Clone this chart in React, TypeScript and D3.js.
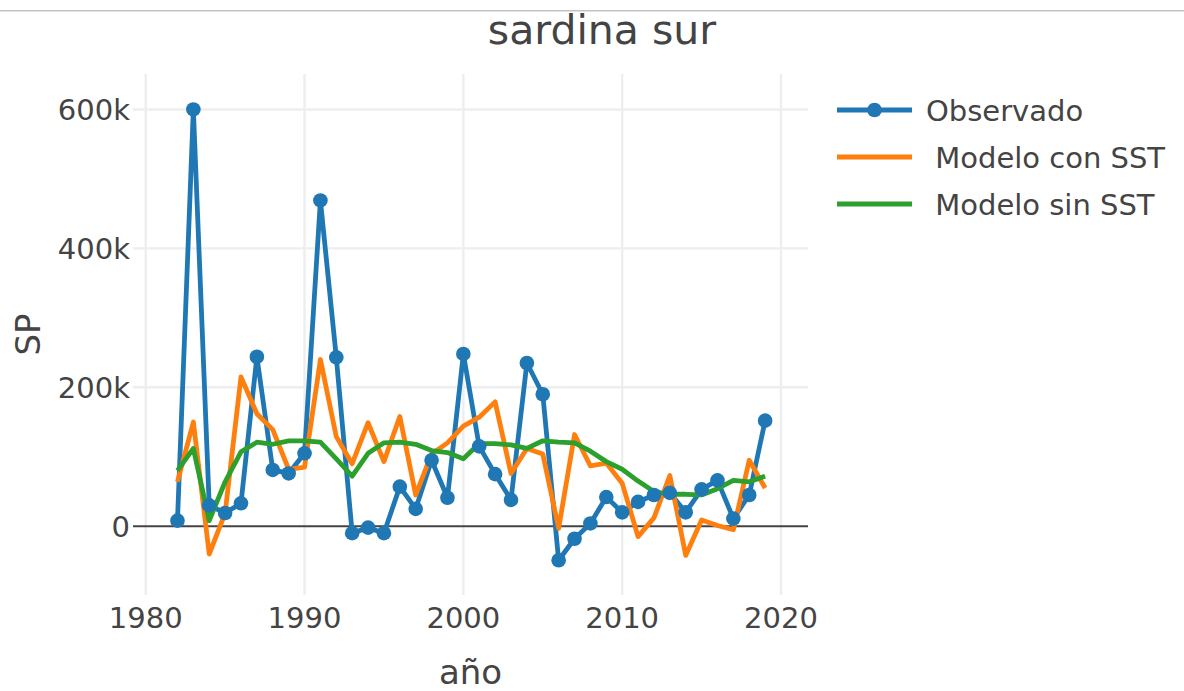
import React from "react";
import * as d3 from "d3";

const years: number[] = d3.range(1982, 2020);

// values in thousands
const observado: number[] = [
  8, 600, 30, 19, 33, 244, 81, 76, 105, 469,
  243, -10, -2, -10, 57, 25, 95, 41, 248, 115,
  75, 38, 235, 190, -49, -18, 4, 42, 20, 35,
  45, 48, 20, 53, 66, 11, 45, 152,
];

const modeloConSST: number[] = [
  64, 150, -40, 19, 215, 162, 139, 82, 85, 240,
  129, 90, 149, 93, 158, 45, 104, 120, 144, 157,
  179, 76, 112, 104, -3, 132, 87, 91, 62, -15,
  12, 73, -42, 9, 1, -5, 95, 55,
];

const modeloSinSST: number[] = [
  80, 112, 8, 64, 107, 121, 118, 123, 123, 121,
  97, 72, 105, 120, 121, 118, 109, 106, 97, 119,
  119, 117, 112, 123, 121, 120, 108, 93, 82, 65,
  50, 46, 46, 45, 54, 66, 64, 72,
];

const xTicks: number[] = [1980, 1990, 2000, 2010, 2020];
const yTicks: number[] = [0, 200, 400, 600];
const yTickLabels: string[] = ["0", "200k", "400k", "600k"];

const seriesNames: string[] = ["Observado", " Modelo con SST", " Modelo sin SST"];
const seriesColors: string[] = ["#1f77b4", "#ff7f0e", "#2ca02c"];

const W = 1184;
const H = 691;
const plot = { left: 133, right: 808, top: 74, bottom: 595 };
const FONT = "'DejaVu Sans', Verdana, sans-serif";
const TXT = "#444";

export default function App() {
  const x = d3.scaleLinear().domain([1979.2, 2021.7]).range([plot.left, plot.right]);
  const y = d3.scaleLinear().domain([-99, 651]).range([plot.bottom, plot.top]);

  const line = d3
    .line<number>()
    .x((_, i) => x(years[i]))
    .y((d) => y(d));

  const allSeries = [observado, modeloConSST, modeloSinSST];
  const drawOrder = [0, 1, 2];

  return (
    <svg
      width={W}
      height={H}
      style={{ position: "absolute", left: 0, top: 0, background: "#fff" }}
      fontFamily={FONT}
    >
      <rect x={0} y={0} width={W} height={H} fill="#fff" />
      <rect x={0} y={10} width={W} height={1.5} fill="#c4c4c4" />

      {/* grid */}
      {xTicks.map((t) => (
        <line
          key={"gx" + t}
          x1={x(t)}
          x2={x(t)}
          y1={plot.top}
          y2={plot.bottom}
          stroke="#eee"
          strokeWidth={2.4}
        />
      ))}
      {yTicks
        .filter((t) => t !== 0)
        .map((t) => (
          <line
            key={"gy" + t}
            x1={plot.left}
            x2={plot.right}
            y1={y(t)}
            y2={y(t)}
            stroke="#eee"
            strokeWidth={2.4}
          />
        ))}
      {/* zero line */}
      <line
        x1={plot.left}
        x2={plot.right}
        y1={y(0)}
        y2={y(0)}
        stroke="#444"
        strokeWidth={2.2}
      />

      {/* series */}
      {drawOrder.map((si) => (
        <path
          key={"s" + si}
          d={line(allSeries[si]) || ""}
          fill="none"
          stroke={seriesColors[si]}
          strokeWidth={4.8}
          strokeLinejoin="round"
        />
      ))}
      {observado.map((v, i) => (
        <circle key={"m" + i} cx={x(years[i])} cy={y(v)} r={7.3} fill={seriesColors[0]} />
      ))}

      {/* y tick labels */}
      {yTicks.map((t, i) => (
        <text
          key={"yl" + t}
          x={130}
          y={y(t)}
          dy="0.36em"
          textAnchor="end"
          fontSize={29}
          fill={TXT}
        >
          {yTickLabels[i]}
        </text>
      ))}
      {/* x tick labels */}
      {xTicks.map((t) => (
        <text key={"xl" + t} x={x(t)} y={628} textAnchor="middle" fontSize={29} fill={TXT}>
          {t}
        </text>
      ))}

      {/* titles */}
      <text x={602} y={43.5} textAnchor="middle" fontSize={41} fill={TXT}>
        sardina sur
      </text>
      <text x={(plot.left + plot.right) / 2} y={684} textAnchor="middle" fontSize={34} fill={TXT}>
        año
      </text>
      <text
        transform={`translate(40,${(plot.top + plot.bottom) / 2}) rotate(-90)`}
        textAnchor="middle"
        fontSize={34}
        fill={TXT}
      >
        SP
      </text>

      {/* legend */}
      {seriesNames.map((name, i) => {
        const cy = 110 + i * 47;
        return (
          <g key={"lg" + i}>
            <line x1={837} x2={912} y1={cy} y2={cy} stroke={seriesColors[i]} strokeWidth={4.8} />
            {i === 0 && <circle cx={874.5} cy={cy} r={7.3} fill={seriesColors[0]} />}
            <text
              x={926}
              y={cy + 10.5}
              fontSize={29}
              fill={TXT}
              style={{ whiteSpace: "pre" }}
              xmlSpace="preserve"
            >
              {name}
            </text>
          </g>
        );
      })}
    </svg>
  );
}
